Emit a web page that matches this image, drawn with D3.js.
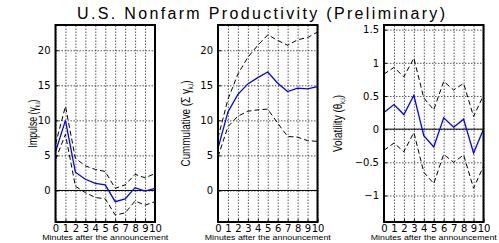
<!DOCTYPE html>
<html>
<head>
<meta charset="utf-8">
<script src="https://cdnjs.cloudflare.com/ajax/libs/d3/7.8.5/d3.min.js"></script>
<style>
  body { margin: 0; background: #fff; }
  svg { display: block; font-family: "Liberation Sans", Arial, sans-serif; }
  .grid line { stroke: #444; stroke-width: 0.9; stroke-dasharray: 1.5,1.5; }
  .grid path { display: none; }
  .tick text { fill: #000; }
</style>
</head>
<body>
<svg id="chart" width="499" height="243"></svg>
<script>
var minutes = [0, 1, 2, 3, 4, 5, 6, 7, 8, 9, 10];

var impulse      = [5.5, 10.0, 2.6, 1.6, 1.0, 0.8, -1.6, -1.2, 0.4, -0.1, 0.3];
var impulseUpper = [6.6, 12.0, 4.6, 3.5, 3.0, 2.7, 0.3, 0.8, 2.3, 1.8, 2.4];
var impulseLower = [4.4, 8.0, 0.6, -0.3, -1.0, -1.2, -3.5, -3.2, -1.5, -2.1, -1.6];

var cumul      = [6.0, 11.2, 13.7, 15.2, 16.1, 16.9, 15.3, 14.1, 14.6, 14.5, 14.8];
var cumulUpper = [7.5, 13.0, 16.6, 19.0, 20.7, 22.2, 21.4, 20.7, 21.5, 21.8, 22.6];
var cumulLower = [4.8, 9.1, 10.6, 11.3, 11.5, 11.6, 9.6, 7.7, 7.6, 7.1, 7.0];

var volat      = [0.25, 0.37, 0.22, 0.51, -0.10, -0.27, 0.17, 0.03, 0.15, -0.36, 0.00];
var volatUpper = [0.83, 0.93, 0.79, 1.07, 0.47, 0.29, 0.72, 0.59, 0.69, 0.19, 0.51];
var volatLower = [-0.32, -0.21, -0.34, -0.05, -0.65, -0.82, -0.38, -0.50, -0.39, -0.89, -0.56];

var ticksA = [0, 5, 10, 15, 20];
var ticksB = [-1, -0.5, 0, 0.5, 1, 1.5];

var svg = d3.select('#chart');

svg.append('text')
    .attr('x', 261)
    .attr('y', 19)
    .attr('text-anchor', 'middle')
    .attr('font-size', 16)
    .attr('textLength', 368)
    .attr('lengthAdjust', 'spacing')
    .text('U.S. Nonfarm Productivity (Preliminary)');

var plotTop = 25, plotBottom = 222, w = 99.5;

var panels = [
    { left: 55.5, domain: [-4.5, 23.6], ticks: ticksA, mid: impulse, up: impulseUpper, lo: impulseLower,
      label: ['Impulse (', 'γ', 'k,i', ')'], labelX: 37, labelLen: 48 },
    { left: 218, domain: [-4.5, 23.6], ticks: ticksA, mid: cumul, up: cumulUpper, lo: cumulLower,
      label: ['Cummulative (Σ ', 'γ', 'k,i', ')'], labelX: 190, labelLen: 86 },
    { left: 384, domain: [-1.4, 1.57], ticks: ticksB, mid: volat, up: volatUpper, lo: volatLower,
      label: ['Volatility (', 'θ', 'k,i', ')'], labelX: 342, labelLen: 57 }
];

function fmt(v) {
    return v < 0 ? '\u2212' + Math.abs(v) : String(v);
}

panels.forEach(function(p) {
    var x = d3.scaleLinear().domain([0, 10]).range([p.left, p.left + w]);
    var y = d3.scaleLinear().domain(p.domain).range([plotBottom, plotTop]);
    var g = svg.append('g');

    // grid
    g.append('g').attr('class', 'grid')
        .attr('transform', 'translate(' + p.left + ',0)')
        .call(d3.axisLeft(y).tickValues(p.ticks).tickSize(-w).tickFormat(''));
    g.append('g').attr('class', 'grid')
        .attr('transform', 'translate(0,' + plotBottom + ')')
        .call(d3.axisBottom(x).tickValues(minutes).tickSize(-(plotBottom - plotTop)).tickFormat(''));

    // zero line
    g.append('line')
        .attr('x1', x(0)).attr('x2', x(10))
        .attr('y1', y(0)).attr('y2', y(0))
        .attr('stroke', '#000').attr('stroke-width', 1);

    // axes with labels
    var ya = g.append('g')
        .attr('transform', 'translate(' + p.left + ',0)')
        .call(d3.axisLeft(y).tickValues(p.ticks).tickSize(-3).tickPadding(5).tickFormat(fmt));
    ya.select('.domain').remove();
    ya.selectAll('line').attr('stroke', '#000');
    ya.selectAll('text').attr('font-size', 10).attr('font-family', 'DejaVu Sans, sans-serif');

    var xa = g.append('g')
        .attr('transform', 'translate(0,' + plotBottom + ')')
        .call(d3.axisBottom(x).tickValues(minutes).tickSize(-3).tickPadding(3));
    xa.select('.domain').remove();
    xa.selectAll('line').attr('stroke', '#000');
    xa.selectAll('text').attr('font-size', 10).attr('font-family', 'DejaVu Sans, sans-serif');

    // lines
    var line = d3.line()
        .x(function(d, i) { return x(minutes[i]); })
        .y(function(d) { return y(d); });

    g.append('path').datum(p.up).attr('d', line)
        .attr('fill', 'none').attr('stroke', '#000').attr('stroke-width', 1).attr('stroke-dasharray', '5,3');
    g.append('path').datum(p.lo).attr('d', line)
        .attr('fill', 'none').attr('stroke', '#000').attr('stroke-width', 1).attr('stroke-dasharray', '5,3');
    g.append('path').datum(p.mid).attr('d', line)
        .attr('fill', 'none').attr('stroke', '#0000ff').attr('stroke-width', 1.3);

    // box
    g.append('rect')
        .attr('x', p.left).attr('y', plotTop)
        .attr('width', w).attr('height', plotBottom - plotTop)
        .attr('fill', 'none').attr('stroke', '#000').attr('stroke-width', 2);

    // x label
    g.append('text')
        .attr('x', p.left + w / 2)
        .attr('y', 240)
        .attr('text-anchor', 'middle')
        .attr('font-size', 7)
        .attr('textLength', 126)
        .attr('lengthAdjust', 'spacingAndGlyphs')
        .text('Minutes after the announcement');

    // y label
    var t = g.append('text')
        .attr('transform', 'translate(' + p.labelX + ',' + (plotTop + plotBottom) / 2 + ') rotate(-90)')
        .attr('text-anchor', 'middle')
        .attr('font-size', 13)
        .attr('font-family', '"Liberation Sans Narrow", "Liberation Sans", sans-serif')
        .attr('textLength', p.labelLen)
        .attr('lengthAdjust', 'spacingAndGlyphs');
    t.append('tspan').text(p.label[0]);
    t.append('tspan').text(p.label[1]);
    t.append('tspan').attr('font-size', 7).attr('dy', 3).text(p.label[2]);
    t.append('tspan').attr('dy', -3).text(p.label[3]);
});
</script>
</body>
</html>
